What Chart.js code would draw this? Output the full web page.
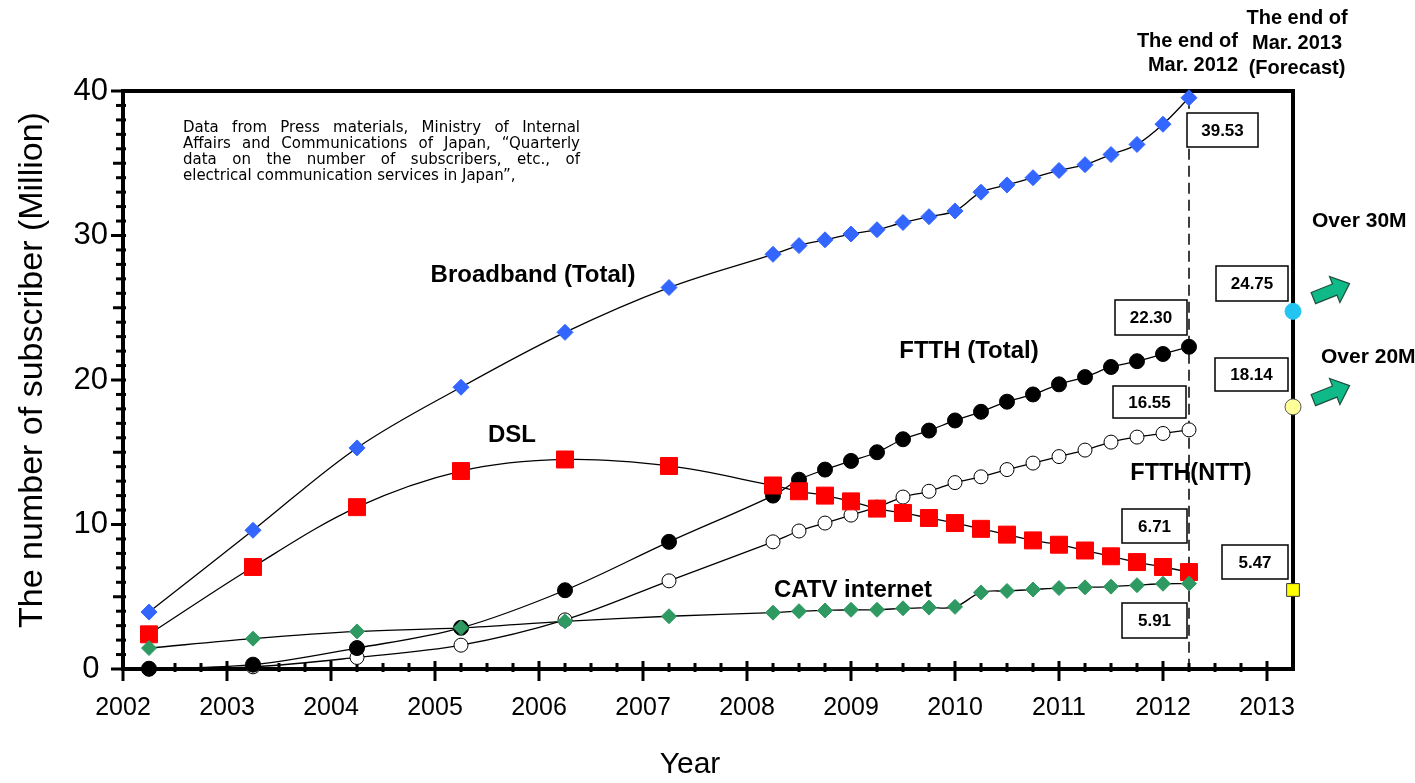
<!DOCTYPE html>
<html>
<head>
<meta charset="utf-8">
<script src="https://cdn.jsdelivr.net/npm/chart.js@4"></script>
<style>
  html, body { margin: 0; padding: 0; background: #fff; }
  #wrap { width: 1415px; height: 783px; }
</style>
</head>
<body>
<div id="wrap"><canvas id="grafica" width="1415" height="783"></canvas></div>
<script>
// End of March of each year, then quarterly from 2008
const years = [2002.25, 2003.25, 2004.25, 2005.25, 2006.25, 2007.25,
  2008.25, 2008.5, 2008.75, 2009, 2009.25, 2009.5, 2009.75, 2010,
  2010.25, 2010.5, 2010.75, 2011, 2011.25, 2011.5, 2011.75, 2012, 2012.25];

const broadband = [3.94, 9.6, 15.3, 19.5, 23.3, 26.4,
  28.7, 29.3, 29.7, 30.1, 30.4, 30.9, 31.3, 31.7,
  33.0, 33.5, 34.0, 34.5, 34.9, 35.6, 36.3, 37.7, 39.53];
const dsl = [2.4, 7.06, 11.2, 13.7, 14.5, 14.05,
  12.7, 12.3, 12.0, 11.6, 11.1, 10.8, 10.45, 10.1,
  9.7, 9.3, 8.9, 8.6, 8.2, 7.8, 7.4, 7.06, 6.71];
const ftthTotal = [0.02, 0.3, 1.45, 2.85, 5.45, 8.8,
  12.0, 13.1, 13.8, 14.4, 15.0, 15.9, 16.5, 17.2,
  17.8, 18.5, 19.0, 19.7, 20.2, 20.9, 21.3, 21.8, 22.30];
const ftthNtt = [0.0, 0.15, 0.8, 1.65, 3.4, 6.1,
  8.8, 9.55, 10.1, 10.65, 11.2, 11.9, 12.3, 12.9,
  13.3, 13.8, 14.25, 14.7, 15.15, 15.7, 16.05, 16.3, 16.55];
const catv = [1.45, 2.1, 2.6, 2.85, 3.3, 3.65,
  3.9, 4.0, 4.05, 4.1, 4.1, 4.2, 4.25, 4.3,
  5.3, 5.4, 5.5, 5.6, 5.65, 5.7, 5.8, 5.9, 5.91];

// forecast for the end of Mar. 2013
const forecastYear = 2013.25;
const forecastBroadband = 24.75;
const forecastFtth = 18.14;
const forecastDsl = 5.47;

const yTicks = [0, 10, 20, 30, 40];
const xTicks = [2002, 2003, 2004, 2005, 2006, 2007, 2008, 2009, 2010, 2011, 2012, 2013];

const pts = arr => arr.map((v, i) => ({ x: years[i], y: v }));
const FONT = '"Liberation Sans", Arial, sans-serif';

function serie(label, data, opts) {
  return Object.assign({
    label: label,
    data: pts(data),
    borderColor: '#000',
    borderWidth: 1.3,
    tension: 0.35,
    clip: false,
    pointBorderWidth: 1,
  }, opts);
}

// frame, dashed line, tick marks and all the texts
const frame = {
  id: 'frame',
  beforeDatasetsDraw(chart) {
    const { ctx, chartArea: a, scales: { x, y } } = chart;
    ctx.save();
    ctx.strokeStyle = '#000';

    const xd = x.getPixelForValue(years[years.length - 1]);
    ctx.lineWidth = 1.5;
    ctx.setLineDash([11, 6]);
    ctx.beginPath();
    ctx.moveTo(xd, y.getPixelForValue(broadband[broadband.length - 1]));
    ctx.lineTo(xd, a.bottom);
    ctx.stroke();
    ctx.setLineDash([]);

    ctx.lineWidth = 4;
    ctx.strokeRect(a.left, a.top, a.right - a.left, a.bottom - a.top);

    ctx.lineWidth = 3;
    for (let v = 0; v <= 40; v++) {
      const py = y.getPixelForValue(v);
      const len = v % 10 === 0 ? 12 : (v % 5 === 0 ? 10 : 7);
      ctx.beginPath();
      ctx.moveTo(a.left - len, py);
      ctx.lineTo(a.left + 3, py);
      ctx.stroke();
    }
    for (let q = 0; q <= 44; q++) {
      const px = x.getPixelForValue(2002 + q / 4);
      ctx.beginPath();
      if (q % 4 === 0) {
        ctx.moveTo(px, a.bottom - 8);
        ctx.lineTo(px, a.bottom + 12);
      } else {
        ctx.moveTo(px, a.bottom - 6);
        ctx.lineTo(px, a.bottom + 3);
      }
      ctx.stroke();
    }
    ctx.restore();
  },
  afterDatasetsDraw(chart) {
    const { ctx } = chart;
    ctx.save();
    ctx.fillStyle = '#000';

    // axis titles
    ctx.textAlign = 'center';
    ctx.textBaseline = 'middle';
    ctx.font = '30px ' + FONT;
    ctx.fillText('Year', 690, 765);
    ctx.save();
    ctx.translate(33, 370);
    ctx.rotate(-Math.PI / 2);
    ctx.font = '34px ' + FONT;
    ctx.fillText('The number of subscriber (Million)', 0, 0);
    ctx.restore();

    // series names
    ctx.font = 'bold 24px ' + FONT;
    ctx.fillText('Broadband (Total)', 533, 275);
    ctx.fillText('DSL', 512, 435);
    ctx.fillText('FTTH (Total)', 969, 351);
    ctx.fillText('CATV internet', 853, 590);
    ctx.font = 'bold 23.5px ' + FONT;
    ctx.fillText('FTTH(NTT)', 1191, 474);

    ctx.font = 'bold 20px ' + FONT;
    ctx.textAlign = 'right';
    ctx.fillText('The end of', 1238, 41);
    ctx.fillText('Mar. 2012', 1238, 65);
    ctx.textAlign = 'center';
    ctx.fillText('The end of', 1297, 18);
    ctx.fillText('Mar. 2013', 1297, 43);
    ctx.fillText('(Forecast)', 1297, 68);
    ctx.textAlign = 'left';
    ctx.font = 'bold 21px ' + FONT;
    ctx.fillText('Over 30M', 1312, 221);
    ctx.fillText('Over 20M', 1321, 357);

    // source note, justified
    ctx.font = '15px "DejaVu Sans", Verdana, sans-serif';
    ctx.textBaseline = 'alphabetic';
    const note = [
      'Data from Press materials, Ministry of Internal',
      'Affairs and Communications of Japan, \u201cQuarterly',
      'data on the number of subscribers, etc., of',
      'electrical communication services in Japan\u201d,'
    ];
    const nx = 183, nw = 397;
    note.forEach((line, i) => {
      const ly = 132 + i * 16;
      if (i === note.length - 1) { ctx.fillText(line, nx, ly); return; }
      const words = line.split(' ');
      const wsum = words.reduce((s, w) => s + ctx.measureText(w).width, 0);
      const gap = (nw - wsum) / (words.length - 1);
      let cx = nx;
      words.forEach(w => { ctx.fillText(w, cx, ly); cx += ctx.measureText(w).width + gap; });
    });

    // value boxes
    const boxes = [
      [broadband[broadband.length - 1], 1187, 113, 1258, 147],
      [ftthTotal[ftthTotal.length - 1], 1115, 300, 1187, 335],
      [ftthNtt[ftthNtt.length - 1], 1113, 386, 1186, 418],
      [dsl[dsl.length - 1], 1122, 509, 1187, 543],
      [catv[catv.length - 1], 1122, 603, 1187, 638],
      [forecastBroadband, 1216, 266, 1288, 301],
      [forecastFtth, 1215, 358, 1288, 391],
      [forecastDsl, 1222, 545, 1288, 579],
    ];
    ctx.font = 'bold 17px ' + FONT;
    ctx.textAlign = 'center';
    ctx.textBaseline = 'middle';
    ctx.lineWidth = 1.5;
    boxes.forEach(([v, x0, y0, x1, y1]) => {
      ctx.fillStyle = '#fff';
      ctx.fillRect(x0, y0, x1 - x0, y1 - y0);
      ctx.strokeStyle = '#000';
      ctx.strokeRect(x0, y0, x1 - x0, y1 - y0);
      ctx.fillStyle = '#000';
      ctx.fillText(v.toFixed(2), (x0 + x1) / 2, (y0 + y1) / 2 + 1);
    });

    // green arrows
    [[1331, 291], [1331, 393]].forEach(([cx, cy]) => {
      ctx.save();
      ctx.translate(cx, cy);
      ctx.rotate(-0.38);
      ctx.beginPath();
      ctx.moveTo(-19, -6);
      ctx.lineTo(4, -6);
      ctx.lineTo(4, -14);
      ctx.lineTo(20, 0);
      ctx.lineTo(4, 14);
      ctx.lineTo(4, 6);
      ctx.lineTo(-19, 6);
      ctx.closePath();
      ctx.fillStyle = '#10b988';
      ctx.fill();
      ctx.strokeStyle = '#1d4f3c';
      ctx.lineWidth = 1.2;
      ctx.stroke();
      ctx.restore();
    });
    ctx.restore();
  }
};

const ctx = document.getElementById('grafica').getContext('2d');

new Chart(ctx, {
  type: 'line',
  data: {
    datasets: [
      serie('CATV internet', catv, {
        pointStyle: 'rectRot', pointRadius: 7.5,
        pointBackgroundColor: '#2e9a62', pointBorderColor: '#2e9a62',
      }),
      serie('DSL', dsl, {
        pointStyle: 'rect', pointRadius: 12,
        pointBackgroundColor: '#ff0000', pointBorderColor: '#ff0000',
      }),
      serie('Broadband (Total)', broadband, {
        pointStyle: 'rectRot', pointRadius: 8,
        pointBackgroundColor: '#3366ff', pointBorderColor: '#3366ff',
      }),
      serie('FTTH (Total)', ftthTotal, {
        pointStyle: 'circle', pointRadius: 7.5,
        pointBackgroundColor: '#000', pointBorderColor: '#000',
      }),
      serie('FTTH(NTT)', ftthNtt, {
        pointStyle: 'circle', pointRadius: 7,
        pointBackgroundColor: '#fff', pointBorderColor: '#000',
      }),
      {
        label: 'Broadband forecast',
        data: [{ x: forecastYear, y: forecastBroadband }],
        showLine: false, clip: false,
        pointStyle: 'circle', pointRadius: 8,
        pointBackgroundColor: '#22c4f2', pointBorderColor: '#22c4f2',
      },
      {
        label: 'FTTH forecast',
        data: [{ x: forecastYear, y: forecastFtth }],
        showLine: false, clip: false,
        pointStyle: 'circle', pointRadius: 8,
        pointBackgroundColor: '#ffff99', pointBorderColor: '#555', pointBorderWidth: 1,
      },
      {
        label: 'DSL forecast',
        data: [{ x: forecastYear, y: forecastDsl }],
        showLine: false, clip: false,
        pointStyle: 'rect', pointRadius: 9,
        pointBackgroundColor: '#ffff00', pointBorderColor: '#333', pointBorderWidth: 1,
      },
    ],
  },
  options: {
    responsive: false,
    animation: false,
    events: [],
    layout: { padding: { top: 91, right: 122, left: 0, bottom: 0 } },
    plugins: {
      legend: { display: false },
      tooltip: { enabled: false },
    },
    scales: {
      x: {
        type: 'linear',
        min: 2002,
        max: forecastYear,
        afterFit: s => { s.height = 114; },
        afterBuildTicks: s => { s.ticks = xTicks.map(v => ({ value: v })); },
        grid: { display: false, tickLength: 0 },
        border: { display: false },
        ticks: {
          padding: 24,
          color: '#000',
          font: { family: FONT, size: 25 },
          callback: v => String(v),
        },
      },
      y: {
        min: 0,
        max: 40,
        afterFit: s => { s.width = 123; },
        afterBuildTicks: s => { s.ticks = yTicks.map(v => ({ value: v })); },
        grid: { display: false, tickLength: 0 },
        border: { display: false },
        ticks: {
          padding: 15,
          crossAlign: 'center',
          color: '#000',
          font: { family: FONT, size: 31 },
          callback: v => String(v),
        },
      },
    },
  },
  plugins: [frame],
});
</script>
</body>
</html>
